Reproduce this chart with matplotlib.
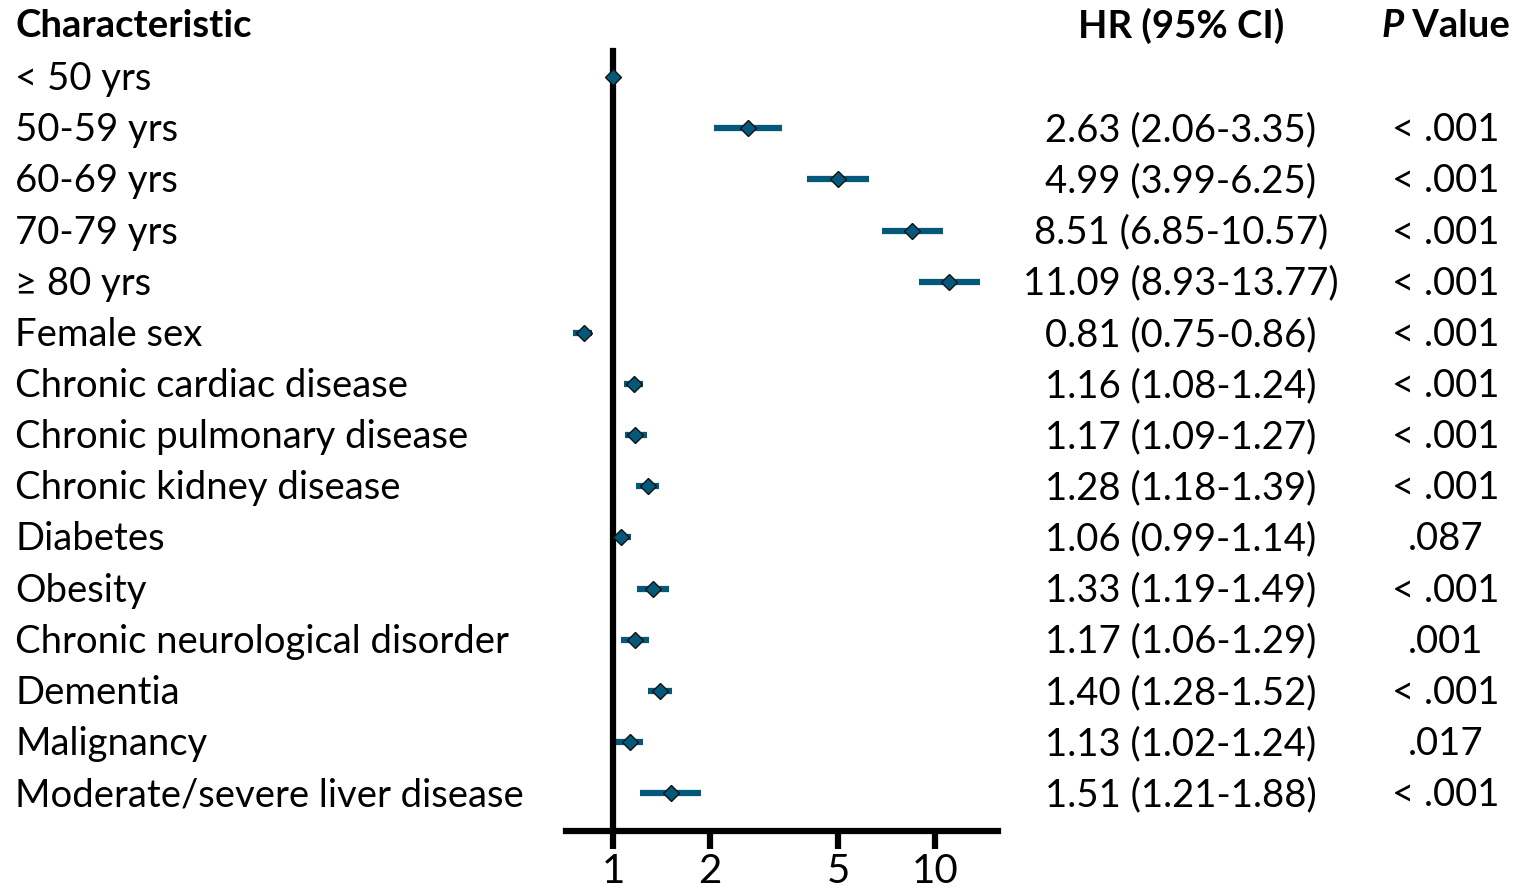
import matplotlib
matplotlib.use("Agg")
import matplotlib.pyplot as plt
import matplotlib.transforms as mtransforms

plt.rcParams['font.family'] = ['Lato', 'DejaVu Sans']

# data
labels = ["< 50 yrs", "50-59 yrs", "60-69 yrs", "70-79 yrs", "\u2265 80 yrs", "Female sex",
          "Chronic cardiac disease", "Chronic pulmonary disease", "Chronic kidney disease",
          "Diabetes", "Obesity", "Chronic neurological disorder", "Dementia", "Malignancy",
          "Moderate/severe liver disease"]
hr = [1.00, 2.63, 4.99, 8.51, 11.09, 0.81, 1.16, 1.17, 1.28, 1.06, 1.33, 1.17, 1.40, 1.13, 1.51]
lo = [1.00, 2.06, 3.99, 6.85, 8.93, 0.75, 1.08, 1.09, 1.18, 0.99, 1.19, 1.06, 1.28, 1.02, 1.21]
hi = [1.00, 3.35, 6.25, 10.57, 13.77, 0.86, 1.24, 1.27, 1.39, 1.14, 1.49, 1.29, 1.52, 1.24, 1.88]
pvals = ["", "< .001", "< .001", "< .001", "< .001", "< .001", "< .001", "< .001", "< .001",
         ".087", "< .001", ".001", "< .001", ".017", "< .001"]
xticks = [1, 2, 5, 10]

teal = '#04597a'

fig = plt.figure(figsize=(15.32, 8.92), dpi=100)
ax = fig.add_axes([0.3695, 0.0684, 0.2819, 0.8744])

rows = list(range(len(labels)))
for i in rows:
    if hi[i] > lo[i]:
        ax.plot([lo[i], hi[i]], [i, i], color=teal, lw=4.5, solid_capstyle='butt', zorder=2)
ax.plot(hr, rows, linestyle='none', marker='D', markersize=8.5, markerfacecolor=teal,
        markeredgecolor='#111111', markeredgewidth=1.0, zorder=3)

ax.set_xscale('log')
ax.set_xlim(0.714, 15.7)
ax.set_ylim(14.74, -0.51)
ax.set_xticks(xticks)
ax.set_xticklabels([str(t) for t in xticks])
ax.xaxis.set_minor_locator(matplotlib.ticker.NullLocator())
ax.tick_params(axis='x', length=13, width=4.5, labelsize=29, pad=3, direction='out')
ax.set_yticks([])
for s in ['top', 'right']:
    ax.spines[s].set_visible(False)
ax.spines['left'].set_position(('data', 1))
ax.spines['left'].set_linewidth(4.5)
ax.spines['bottom'].set_linewidth(4.5)
ax.patch.set_alpha(0)

# text columns
tr = mtransforms.blended_transform_factory(fig.transFigure, ax.transData)
fs = 27.5
dy = 0.04
for i in rows:
    ax.text(0.0098, i + dy, labels[i], transform=tr, ha='left', va='center', fontsize=fs, clip_on=False)
    if hi[i] > lo[i]:
        ax.text(0.7709, i + dy, f"{hr[i]:.2f} ({lo[i]:.2f}-{hi[i]:.2f})", transform=tr,
                ha='center', va='center', fontsize=fs, clip_on=False)
    ax.text(0.9435, i + dy, pvals[i], transform=tr, ha='center', va='center', fontsize=fs, clip_on=False)

hy = -1.0
ax.text(0.0098, hy, "Characteristic", transform=tr, ha='left', va='center', fontsize=fs,
        fontweight='bold', clip_on=False)
ax.text(0.7709, hy, "HR (95% CI)", transform=tr, ha='center', va='center', fontsize=fs,
        fontweight='bold', clip_on=False)
tp = ax.text(0.9015, hy, "P", transform=tr, ha='left', va='center', fontsize=fs,
             fontweight='bold', fontstyle='italic', clip_on=False)
ax.annotate(" Value", xy=(1, 0.5), xycoords=tp, ha='left', va='center', fontsize=fs,
            fontweight='bold', annotation_clip=False)

fig.savefig("out.png", dpi=100)
